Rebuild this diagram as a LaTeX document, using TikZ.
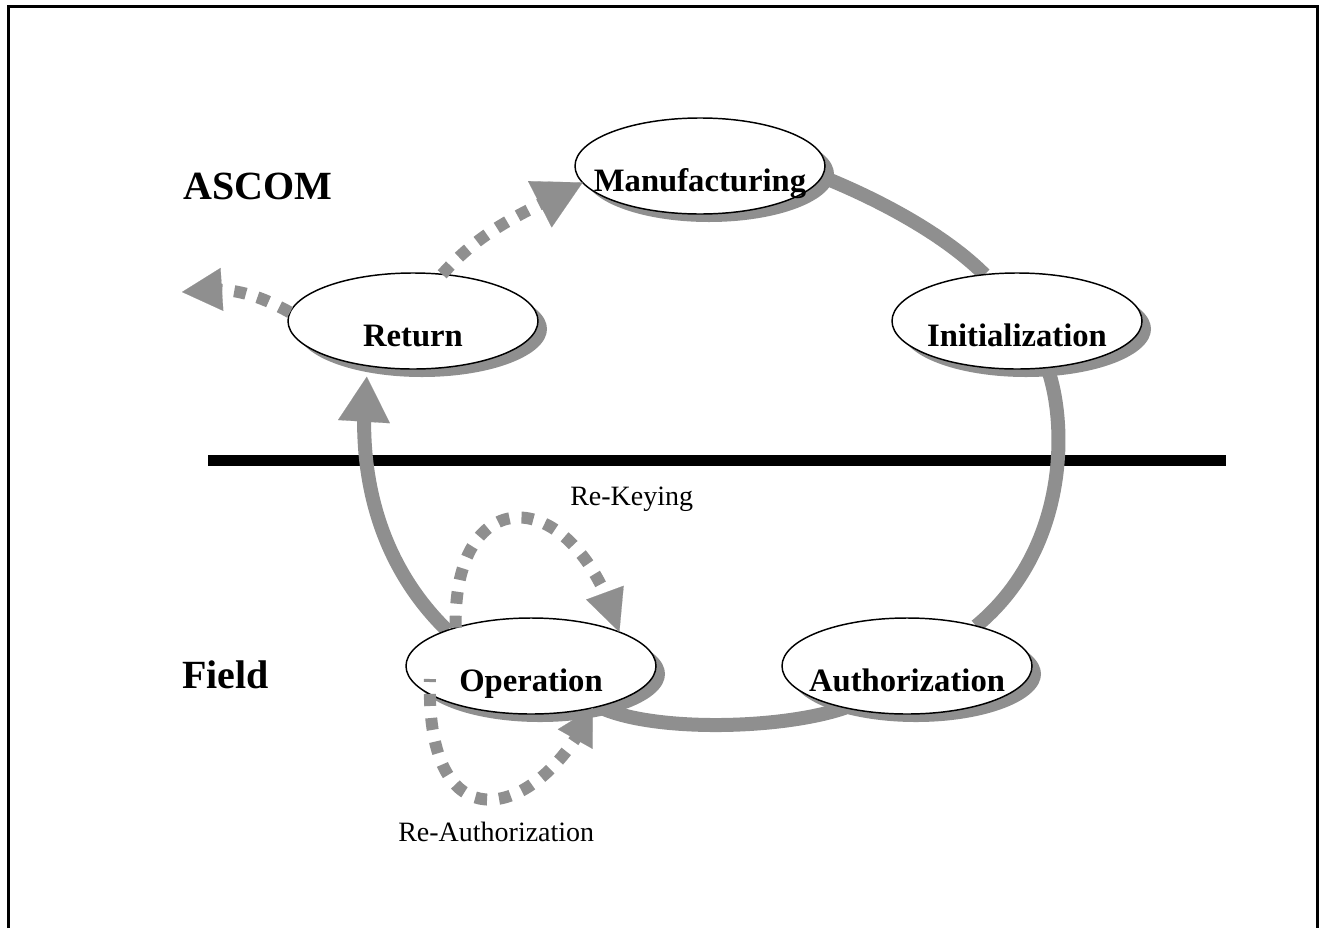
\documentclass[tikz,border=0pt]{standalone}
\usepackage{fontspec}
\setmainfont{Liberation Serif}
\usetikzlibrary{shapes.geometric,shadows,arrows.meta,bending,backgrounds}
\definecolor{bandgray}{RGB}{143,143,143}
\begin{document}
\begin{tikzpicture}[x=0.75pt,y=-0.75pt,
  elnode/.style={ellipse, draw=black, line width=1.1pt, fill=white,
    minimum width=187.5pt, minimum height=72pt, inner sep=0pt, outer sep=0pt,
    text height=38pt, text depth=0pt,
    font=\bfseries\fontsize{24.5}{28}\selectfont,
    drop shadow={shadow xshift=6.75pt, shadow yshift=-6pt, opacity=1, fill=bandgray, draw=none}},
  band/.style={draw=bandgray, line width=10.5pt},
  dotband/.style={draw=bandgray, line width=9pt, dash pattern=on 9pt off 9pt},
  side/.style={font=\bfseries\fontsize{30}{34}\selectfont, inner sep=0pt, anchor=base west},
  small/.style={font=\fontsize{21}{24}\selectfont, inner sep=0pt, anchor=base west}
]
\useasboundingbox (0,0) rectangle (1319,928);
% frame
\draw[line width=2.25pt] (8,928) -- (8,6) -- (1317.5,6) -- (1317.5,928);

% nodes
\node[elnode] (man)  at (700,166) {\makebox[0pt]{Manufacturing}};
\node[elnode] (ret)  at (413,321) {\makebox[0pt]{Return}};
\node[elnode] (init) at (1017,321) {\makebox[0pt]{Initialization}};
\node[elnode] (op)   at (531,666) {\makebox[0pt]{Operation}};
\node[elnode] (auth) at (907,666) {\makebox[0pt]{Authorization}};

\node[side] (ascom) at (183,199) {ASCOM};
\node[side] (field) at (182,688) {Field};
\node[small] (rekey) at (570,505) {Re-Keying};
\node[small] (reauth) at (398,841) {Re-Authorization};

\coordinate (away) at (182,292);
\coordinate (rastart) at (430,679);

\begin{pgfonlayer}{background}
  \draw[line width=8.25pt] (208,460.5) -- (1226,460.5);
  \draw[band] (man.-5) .. controls (880,200) and (945,235) .. (init.125);
  \draw[band] (init.303) .. controls (1068,425) and (1068,550) .. (auth.30);
  \draw[band] (auth.214) .. controls (780,730) and (650,732) .. (op.329);
  \draw[band, -{Triangle[length=33.75pt,width=39pt,line width=0.1pt]}, shorten >=8.25pt]
    (op.157) .. controls (385,570) and (352,480) .. (ret.225);
\end{pgfonlayer}

% dashed arrows
\draw[dotband, -{Triangle[length=36pt,width=39pt,line width=0.1pt]}]
  (ret.58) to[out=48,in=208] (man.188);
\draw[dotband, -{Triangle[length=30pt,width=32.25pt,line width=0.1pt]}]
  (ret.176) to[out=151,in=9] (away);
\draw[dotband, -{Triangle[length=31.5pt,width=30pt,line width=0.1pt]}]
  (op.153) .. controls (452,480) and (575,480) .. (op.21);
\draw[dotband, dash phase=6.75pt, -{Triangle[length=27pt,width=30pt,line width=0.1pt]}]
  (rastart) .. controls (425,850) and (540,820) .. (op.326);
\end{tikzpicture}
\end{document}
